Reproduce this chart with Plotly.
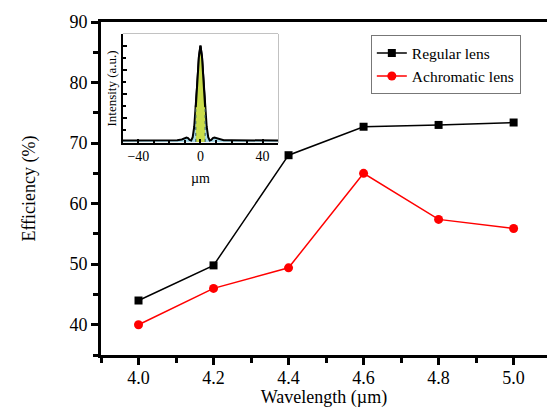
import plotly.graph_objects as go

wavelength = [4.0, 4.2, 4.4, 4.6, 4.8, 5.0]
regular = [44.0, 49.8, 68.0, 72.7, 73.0, 73.4]
achromatic = [40.0, 46.0, 49.4, 65.0, 57.4, 55.9]

inset_x = [-50, -40, -30, -20, -15, -12, -10, -9, -8, -7, -6, -5, -4, -3, -2, -1, 0,
           1, 2, 3, 4, 5, 6, 7, 8, 9, 10, 12, 15, 20, 30, 40, 50]
inset_y = [0.015, 0.015, 0.015, 0.017, 0.017, 0.025, 0.04, 0.045, 0.04, 0.02, 0.015, 0.05, 0.16, 0.36, 0.62, 0.88, 1.0,
           0.88, 0.62, 0.36, 0.16, 0.05, 0.015, 0.02, 0.04, 0.045, 0.04, 0.025, 0.017, 0.017, 0.015, 0.015, 0.015]
core_x = [x for x in inset_x if abs(x) <= 3]
core_y = [y for x, y in zip(inset_x, inset_y) if abs(x) <= 3]

FONT = "Liberation Serif"

fig = go.Figure()
fig.add_trace(go.Scatter(x=wavelength, y=regular, mode="lines+markers", name="Regular lens",
                         line=dict(color="black", width=1.5),
                         marker=dict(symbol="square", size=8, color="black")))
fig.add_trace(go.Scatter(x=wavelength, y=achromatic, mode="lines+markers", name="Achromatic lens",
                         line=dict(color="#ff0000", width=1.5),
                         marker=dict(symbol="circle", size=9, color="#ff0000")))

# inset
fig.add_trace(go.Scatter(x=inset_x, y=inset_y, xaxis="x2", yaxis="y2", mode="lines",
                         fill="tozeroy", fillcolor="#a9dcec", line=dict(color="black", width=2),
                         showlegend=False, hoverinfo="skip"))
fig.add_trace(go.Scatter(x=core_x, y=core_y, xaxis="x2", yaxis="y2", mode="lines",
                         fill="tozeroy", fillcolor="#c9dc4c", line=dict(color="black", width=2),
                         showlegend=False, hoverinfo="skip"))
for xv in (-3, 3):
    fig.add_trace(go.Scatter(x=[xv, xv], y=[0, core_y[core_x.index(xv)]], xaxis="x2", yaxis="y2",
                             mode="lines", line=dict(color="#335566", width=1, dash="dot"),
                             showlegend=False, hoverinfo="skip"))

fig.update_layout(
    width=547, height=408,
    margin=dict(l=101, r=0, t=22, b=53),
    paper_bgcolor="white", plot_bgcolor="white",
    font=dict(family=FONT, color="black", size=18),
    showlegend=True,
    legend=dict(x=0.605, y=0.96, xanchor="left", yanchor="top",
                bgcolor="white", bordercolor="#777777", borderwidth=1,
                font=dict(family=FONT, size=15.5), tracegroupgap=0, itemwidth=30),
    xaxis=dict(range=[3.9, 5.089], tickvals=[4.0, 4.2, 4.4, 4.6, 4.8, 5.0],
               ticktext=["4.0", "4.2", "4.4", "4.6", "4.8", "5.0"],
               ticks="outside", ticklen=7, tickwidth=2.5, tickcolor="black",
               ticklabelstandoff=-3,
               minor=dict(dtick=0.1, tick0=4.0, ticks="outside", ticklen=5, tickwidth=2.5, tickcolor="black"),
               showline=True, linecolor="black", linewidth=3, mirror=True,
               showgrid=False, zeroline=False,
               title=dict(text="Wavelength (µm)", font=dict(size=18), standoff=4),
               tickfont=dict(size=18)),
    yaxis=dict(range=[35, 90], tickvals=[40, 50, 60, 70, 80, 90],
               ticks="outside", ticklen=7, tickwidth=2.5, tickcolor="black",
               minor=dict(dtick=5, tick0=35, ticks="outside", ticklen=5, tickwidth=2.5, tickcolor="black"),
               showline=True, linecolor="black", linewidth=3,
               showgrid=False, zeroline=False,
               title=dict(text="Efficiency (%)", font=dict(size=18), standoff=30),
               tickfont=dict(size=18)),
    xaxis2=dict(domain=[0.049, 0.397], anchor="y2", range=[-50, 50],
                tickvals=[-40, 0, 40], ticktext=["\u221240", "0", "40"],
                ticks="inside", ticklen=4, tickwidth=1.5, tickcolor="black",
                minor=dict(dtick=10, ticks="inside", ticklen=3, tickcolor="black"),
                showline=True, linecolor="black", linewidth=1.5,
                showgrid=False, zeroline=False,
                title=dict(text="µm", font=dict(size=14), standoff=10),
                tickfont=dict(size=14)),
    yaxis2=dict(domain=[0.637, 0.964], anchor="x2", range=[-0.01, 1.12],
                tickvals=[0, 0.25, 0.5, 0.75, 1.0], showticklabels=False,
                ticks="inside", ticklen=4, tickwidth=1.5, tickcolor="black",
                minor=dict(dtick=0.125, ticks="inside", ticklen=3, tickcolor="black"),
                showline=True, linecolor="black", linewidth=1.5,
                showgrid=False, zeroline=False,
                title=dict(text="Intensity (a.u.)", font=dict(size=13), standoff=2)),
    shapes=[dict(type="rect", xref="x2 domain", yref="y2 domain", x0=0, x1=1, y0=0, y1=1,
                 line=dict(color="#888888", width=1), layer="below")],
)

fig.write_html("out.html")
